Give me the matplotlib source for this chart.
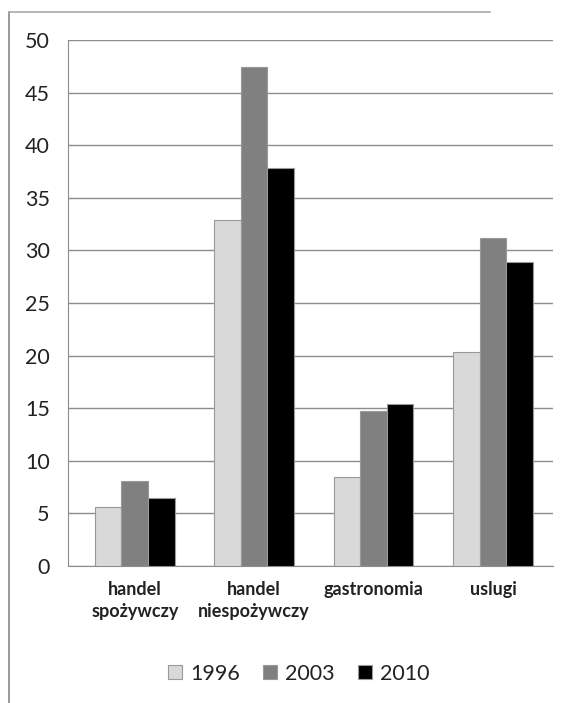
import matplotlib.pyplot as plt
import numpy as np
from matplotlib.lines import Line2D

categories = ["handel\nspożywczy", "handel\nniespożywczy", "gastronomia", "uslugi"]
years = ["1996", "2003", "2010"]
v1996 = [5.6, 32.9, 8.5, 20.3]
v2003 = [8.1, 47.4, 14.7, 31.2]
v2010 = [6.5, 37.8, 15.4, 28.9]
colors = ["#d9d9d9", "#808080", "#000000"]

plt.rcParams['font.family'] = ['Lato', 'DejaVu Sans']

fig = plt.figure(figsize=(5.7, 7.03), dpi=100)
ax = fig.add_axes([0.119, 0.195, 0.851, 0.748])

x = np.arange(len(categories))
w = 0.222
for i, (vals, col) in enumerate(zip([v1996, v2003, v2010], colors)):
    ax.bar(x + (i - 1) * w, vals, w, color=col, edgecolor="#999999",
           linewidth=0.8, label=years[i], zorder=3)

ax.set_ylim(0, 50)
ax.set_xlim(-0.56, 3.5)
ax.set_yticks(range(0, 51, 5))
ax.yaxis.grid(True, color="#8c8c8c", linewidth=1.0)
ax.set_axisbelow(True)
for s in ["top", "right"]:
    ax.spines[s].set_visible(False)
ax.spines["left"].set_color("#8c8c8c")
ax.spines["bottom"].set_color("#8c8c8c")
ax.tick_params(axis="y", length=0, labelsize=15.5, pad=13, colors="#222222")
ax.tick_params(axis="x", length=0, pad=11)
ax.set_xticks(x)
ax.set_xticklabels(categories, fontsize=13, fontweight="bold", linespacing=1.35,
                   color="#222222")

ax.legend(loc="center", bbox_to_anchor=(0.476, -0.205), ncol=3, frameon=False,
          fontsize=15.5, handlelength=0.65, handleheight=0.65, handletextpad=0.35,
          columnspacing=1.1, labelcolor="#222222")

# outer frame (left and top edges of the scanned box)
fig.add_artist(Line2D([0.016, 0.016], [0.0, 0.983], color="#888888", linewidth=1.2,
                      transform=fig.transFigure))
fig.add_artist(Line2D([0.016, 0.86], [0.983, 0.983], color="#aaaaaa", linewidth=1.2,
                      transform=fig.transFigure))

fig.savefig("out.png", dpi=100, facecolor="white")
